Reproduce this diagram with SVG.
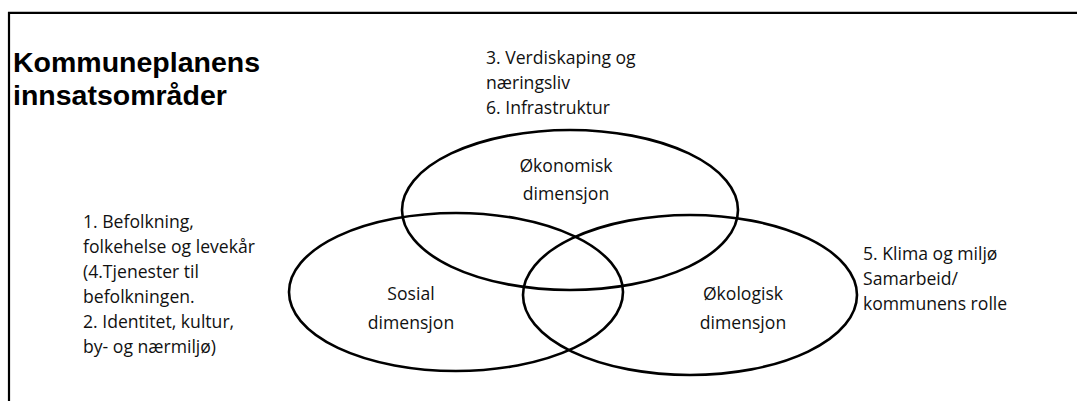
<svg xmlns="http://www.w3.org/2000/svg" width="1077" height="401" viewBox="0 0 1077 401">
<style>
  .t { font-family: "Open Sans", "Liberation Sans", sans-serif; font-size: 17.6px; fill: #111; }
  .c { text-anchor: middle; }
  .title { font-family: "Liberation Sans", "Open Sans", sans-serif; font-size: 28.5px; font-weight: bold; fill: #000; }
  .ell { fill: none; stroke: #000; stroke-width: 2.6; }
  .frame { fill: none; stroke: #000; stroke-width: 2.2; }
</style>
<rect width="1077" height="401" fill="#fff"/>
<path class="frame" d="M9 401 V12.8 H1077"/>
<g id="title">
  <text class="title" x="13" y="72">Kommuneplanens</text>
  <text class="title" x="13" y="105">innsatsområder</text>
</g>
<g id="okonomisk">
  <ellipse class="ell" cx="570" cy="210" rx="168" ry="80"/>
  <text class="t c" x="566" y="172">Økonomisk</text>
  <text class="t c" x="566" y="200">dimensjon</text>
</g>
<g id="sosial">
  <ellipse class="ell" cx="456" cy="292" rx="167" ry="79"/>
  <text class="t c" x="411" y="300">Sosial</text>
  <text class="t c" x="411" y="329">dimensjon</text>
</g>
<g id="okologisk">
  <ellipse class="ell" cx="690" cy="295" rx="167" ry="80"/>
  <text class="t c" x="743" y="300">Økologisk</text>
  <text class="t c" x="743" y="329">dimensjon</text>
</g>
<g id="label-top">
  <text class="t" x="486" y="64">3. Verdiskaping og</text>
  <text class="t" x="486" y="89">næringsliv</text>
  <text class="t" x="486" y="114">6. Infrastruktur</text>
</g>
<g id="label-left">
  <text class="t" x="83" y="228">1. Befolkning,</text>
  <text class="t" x="83" y="253">folkehelse og levekår</text>
  <text class="t" x="83" y="278">(4.Tjenester til</text>
  <text class="t" x="83" y="303">befolkningen.</text>
  <text class="t" x="83" y="328">2. Identitet, kultur,</text>
  <text class="t" x="83" y="353">by- og nærmiljø)</text>
</g>
<g id="label-right">
  <text class="t" x="863" y="260">5. Klima og miljø</text>
  <text class="t" x="863" y="285">Samarbeid/</text>
  <text class="t" x="863" y="310">kommunens rolle</text>
</g>
<g id="connectors"></g>
</svg>
